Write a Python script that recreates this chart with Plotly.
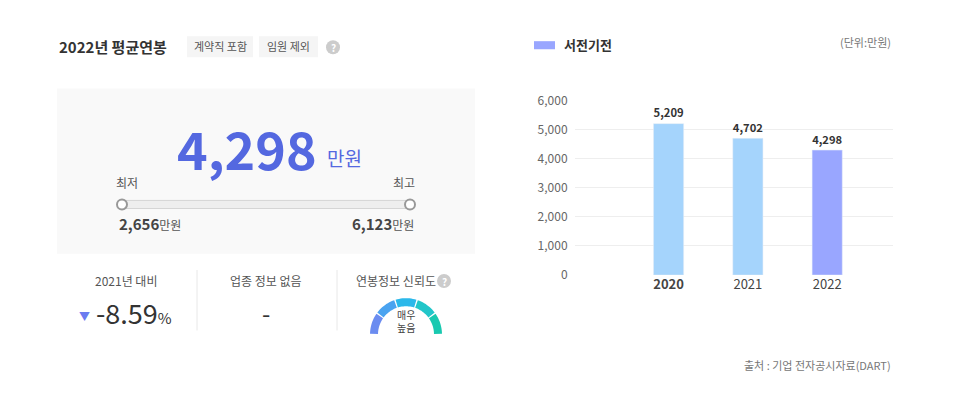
import math
import plotly.graph_objects as go

# --- data ---
years = ["2020", "2021", "2022"]
salaries = [5209, 4702, 4298]
bar_colors = ["#a5d4fc", "#a5d4fc", "#99a6ff"]
avg_salary = "4,298"
min_salary = "2,656"
max_salary = "6,123"
yoy_change = "-8.59"
company = "서전기전"

FONT = "Noto Sans CJK KR"
OFF = 8  # page body margin
W, H = 953 - 2 * OFF, 415 - 2 * OFF
# where the plot area actually lands on the page (measured)
TOP, SPAN = 18, 379

fig = go.Figure()

fig.add_trace(go.Bar(
    x=[0, 1, 2], y=salaries, marker_color=bar_colors, width=0.38,
    text=[f"<b>{v:,}</b>" for v in salaries], textposition="outside",
    textfont=dict(size=[17, 15, 15], color="#333", family=FONT),
    cliponaxis=False, hoverinfo="skip", xaxis="x", yaxis="y",
))

# invisible axes in page pixels for decorations
fig.add_trace(go.Scatter(x=[0], y=[0], mode="markers", marker_opacity=0,
                         xaxis="x2", yaxis="y2", hoverinfo="skip"))

shapes = []
ann = []

def px(x, y, text, size=12, color="#333", xanchor="center", bold=False):
    if bold:
        text = f"<b>{text}</b>"
    ann.append(dict(x=x, y=y, xref="x2", yref="y2", text=text, showarrow=False,
                    font=dict(size=size, color=color, family=FONT), xanchor=xanchor,
                    yanchor="middle"))

def rect(x0, y0, x1, y1, fill, line=None):
    shapes.append(dict(type="rect", xref="x2", yref="y2", x0=x0, y0=y0, x1=x1, y1=y1,
                       fillcolor=fill, line=dict(width=0 if line is None else 1,
                                                 color=line or fill), layer="below"))

# header
px(57, 46, "2022년 평균연봉", 15, "#333", "left", True)
rect(187, 36, 253, 57, "#f5f5f5")
px(220, 46, "계약직 포함", 11, "#555")
rect(259, 36, 318, 57, "#f5f5f5")
px(288, 46, "임원 제외", 11, "#555")
shapes.append(dict(type="circle", xref="x2", yref="y2", x0=326, y0=40, x1=340, y1=54,
                   fillcolor="#ccc", line_width=0))
px(333, 47, "?", 10, "white", bold=True)

# gray panel
rect(57, 88, 475, 252, "#f9f9f9")
px(247, 146, avg_salary, 52, "#5468e0", bold=True)
px(344, 156, "만원", 19, "#5468e0")
px(127, 181, "최저", 12, "#555")
px(404, 181, "최고", 12, "#555")
rect(122, 199, 410, 207, "#eeeeee", "#d5d5d5")
for cx in (122, 410):
    shapes.append(dict(type="circle", xref="x2", yref="y2", x0=cx - 5, y0=198, x1=cx + 5,
                       y1=208, fillcolor="white", line=dict(color="#999", width=2)))
px(117, 222, f"<b>{min_salary}</b><span style='font-size:12px;color:#555'>만원</span>", 15,
   "#444", "left")
px(416, 222, f"<b>{max_salary}</b><span style='font-size:12px;color:#555'>만원</span>", 15,
   "#444", "right")

# bottom stats
for lx in (197, 337):
    shapes.append(dict(type="line", xref="x2", yref="y2", x0=lx, x1=lx, y0=268, y1=328,
                       line=dict(color="#e8e8e8", width=1)))
px(126, 278, "2021년 대비", 12, "#555")
px(84, 314, "▼", 11, "#6b7cf0")
px(134, 310, f"{yoy_change}<span style='font-size:15px'>%</span>", 27, "#333")
px(266, 278, "업종 정보 없음", 12, "#555")
px(266, 310, "-", 24, "#333")
px(396, 278, "연봉정보 신뢰도", 12, "#555")
shapes.append(dict(type="circle", xref="x2", yref="y2", x0=437, y0=272, x1=451, y1=286,
                   fillcolor="#ccc", line_width=0))
px(444, 279, "?", 10, "white", bold=True)

# gauge
gcx, gcy, r_out, r_in = 406, 332, 36, 28
seg_colors = ["#6b8cf0", "#4aa3f0", "#2bb8ea", "#22c6c9", "#19c9b0"]
for i, c in enumerate(seg_colors):
    a0 = math.pi - i * math.pi / 5 - 0.02
    a1 = math.pi - (i + 1) * math.pi / 5 + 0.02
    pts = []
    n = 12
    for k in range(n + 1):
        a = a0 + (a1 - a0) * k / n
        pts.append((gcx + r_out * math.cos(a), gcy - r_out * math.sin(a)))
    for k in range(n + 1):
        a = a1 + (a0 - a1) * k / n
        pts.append((gcx + r_in * math.cos(a), gcy - r_in * math.sin(a)))
    path = "M " + " L ".join(f"{x:.2f},{y:.2f}" for x, y in pts) + " Z"
    shapes.append(dict(type="path", xref="x2", yref="y2", path=path, fillcolor=c,
                       line_width=0))
rect(360, 331, 455, 345, "white")
px(406, 319, "매우<br>높음", 10, "#444")

# right header
rect(534, 41, 555, 49, "#99a6ff")
px(562, 44, company, 13, "#333", "left", True)
px(893, 42, "(단위:만원)", 11, "#777", "right")
px(893, 362, "출처 : 기업 전자공시자료(DART)", 11, "#777", "right")

def fx(p):
    return (p - OFF) / W

def fy(p):
    return 1 - (p - TOP) / SPAN

fig.update_layout(
    width=W, height=H, margin=dict(l=0, r=0, t=0, b=0),
    paper_bgcolor="white", plot_bgcolor="rgba(0,0,0,0)", showlegend=False,
    font=dict(family=FONT),
    xaxis=dict(domain=[fx(575), fx(893)], range=[-1.18, 2.83], tickvals=[0, 1, 2],
               ticktext=["<b>2020</b>", "2021", "2022"], showgrid=False, zeroline=False,
               tickfont=dict(size=13, color="#444"), ticks=""),
    yaxis=dict(domain=[fy(273), fy(100)], range=[0, 6000], dtick=1000,
               tickformat=",", gridcolor="#eeeeee", zeroline=False,
               tickfont=dict(size=12, color="#666"), ticks="outside", ticklen=4,
               tickcolor="rgba(0,0,0,0)"),
    xaxis2=dict(domain=[0, 1], range=[OFF, OFF + W], visible=False, anchor="y2"),
    yaxis2=dict(domain=[0, 1], range=[TOP + SPAN, TOP], visible=False, anchor="x2"),
    shapes=shapes, annotations=ann,
)

fig.write_html("out.html")
